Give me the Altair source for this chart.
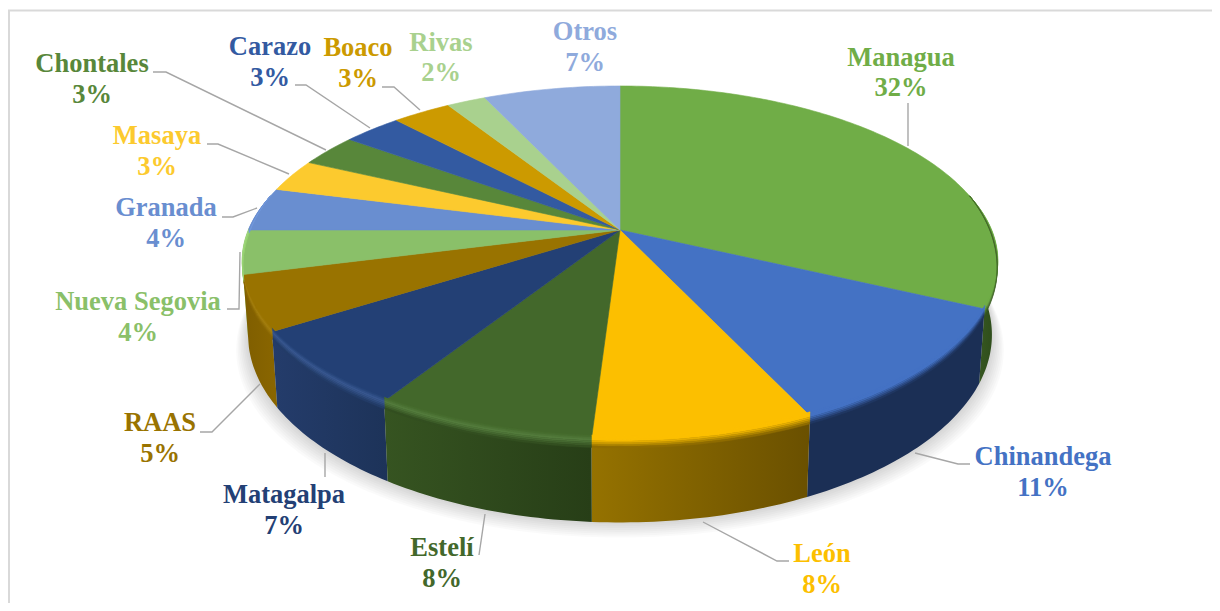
import math
import altair as alt

# ---- data ----
names = ["Managua", "Chinandega", "León", "Estelí", "Matagalpa", "RAAS", "Nueva Segovia",
         "Granada", "Masaya", "Chontales", "Carazo", "Boaco", "Rivas", "Otros"]
shares = [32, 11, 8, 8, 7, 5, 4, 4, 3, 3, 3, 3, 2, 7]

# ---- styles ----
top_colors = ["#70AD47", "#4472C4", "#FCBF00", "#43682B", "#234075", "#997300", "#8AC069",
              "#698ED0", "#FCCA2E", "#58873A", "#335AA1", "#CC9A00", "#A9D18E", "#8FAADC"]
wall_left = ["#3F6126", "#1B2F55", "#957200", "#365421", "#243C6B", "#7F5E00", "#9CDC70",
             "#7EA6EC", "#FCCA2E", "#58873A", "#335AA1", "#CC9A00", "#A9D18E", "#8FAADC"]
wall_right = ["#2C4A1A", "#1B2F55", "#6A5000", "#273E17", "#1D3359", "#8A6600", "#8AC069",
              "#698ED0", "#FCCA2E", "#58873A", "#335AA1", "#CC9A00", "#A9D18E", "#8FAADC"]
highlight = ["#70AD47", "#4472C4", "#FCBF00", "#557D3E", "#3A5A92", "#A58010", "#A4DC80",
             "#698ED0", "#FCCA2E", "#58873A", "#335AA1", "#CC9A00", "#A9D18E", "#8FAADC"]

# ---- layout of the pie (perspective view of a disc) ----
CX, HUB, R, B, K = 620.0, 230.0, 371.0, 170.8, 0.186
DROP_X, DROP_Y, STRETCH_Y = 0.985, 70.0, 1.06
WALL_FROM, WALL_TO = 78.0, 282.0
DEPTH = 80.0


def rim(theta, depth=0.0):
    """Point of the disc's rim; depth 0 is the top rim, 1 the bottom rim."""
    a = math.radians(theta)
    u, v = math.sin(a), math.cos(a)
    s = 1 / (1 + K * v)
    x0, y0 = CX + R * u * s, HUB - B * v * s
    x1 = CX + (x0 - CX) * DROP_X
    y1 = HUB + DROP_Y + (y0 - HUB) * STRETCH_Y
    return [x0 + (x1 - x0) * depth, y0 + (y1 - y0) * depth]


def arc(t0, t1, depth=0.0, fade=False):
    n = max(2, int(abs(t1 - t0)) + 1)
    out = []
    for i in range(n + 1):
        t = t0 + (t1 - t0) * i / n
        d = depth
        if fade:
            # the bevel narrows to nothing where the rim turns away
            d = depth * min(1.0, max(0.0, (0.2 - math.cos(math.radians(t))) / 0.45))
        out.append(rim(t, d))
    return out


def feature(ring, **props):
    ring = ring + [ring[0]]
    return {"type": "Feature", "properties": props,
            "geometry": {"type": "Polygon", "coordinates": [ring]}}


def mix(a, b, t):
    pa = [int(a[i:i + 2], 16) for i in (1, 3, 5)]
    pb = [int(b[i:i + 2], 16) for i in (1, 3, 5)]
    return "#" + "".join(f"{round(p + (q - p) * t):02x}" for p, q in zip(pa, pb))


angles = [0.0]
for v in shares:
    angles.append(angles[-1] + v * 3.6)

proj = dict(type="identity", scale=1, translate=[-8, -8])
geo_color = alt.Color("properties.c:N", scale=None, legend=None)
geo_stroke = alt.Stroke("properties.c:N", scale=None, legend=None)

layers = []

# soft shadow under the disc
for i in range(8, 0, -1):
    ring = [[CX + (x - CX) * (1 + 0.004 * i), y + 1.9 * i] for x, y in arc(0, 359, 1.0)]
    layers.append(alt.Chart(alt.Data(values=[feature(ring)])).mark_geoshape(
        fill="#000000", opacity=0.02, strokeWidth=0).project(**proj))

# side walls, drawn from the far sides towards the front
order = [0, 6, 7, 5, 1, 4, 2, 3]
for i in order:
    t0, t1 = max(angles[i], WALL_FROM), min(angles[i + 1], WALL_TO)
    if t1 <= t0:
        continue
    ring = arc(t0, t1, 0.0) + arc(t1, t0, 1.0)
    grad = alt.LinearGradient(
        gradient="linear", x1=0, x2=1, y1=0, y2=0,
        stops=[alt.GradientStop(color=wall_left[i], offset=0),
               alt.GradientStop(color=wall_right[i], offset=1)])
    layers.append(alt.Chart(alt.Data(values=[feature(ring)])).mark_geoshape(
        fill=grad, strokeWidth=0).project(**proj))

# top face
tops = []
for i in range(len(names)):
    tops.append(feature([[CX, HUB]] + arc(angles[i], angles[i + 1]), c=top_colors[i]))
layers.append(alt.Chart(alt.Data(values=tops)).mark_geoshape(strokeWidth=0.6).encode(
    color=geo_color, stroke=geo_stroke).project(**proj))

# bevel along the visible rim
bands = []
steps = 7
d0, d1 = -4.0, 8.0
for i in range(len(names)):
    t0, t1 = max(angles[i], WALL_FROM), min(angles[i + 1], WALL_TO)
    if t1 <= t0:
        continue
    wall = mix(wall_left[i], wall_right[i], 0.5)
    for j in range(steps):
        f = (j + 0.5) / steps
        if f < 0.4:
            col = mix(top_colors[i], highlight[i], f / 0.4)
        else:
            col = mix(highlight[i], wall, (f - 0.4) / 0.6)
        a = (d0 + (d1 - d0) * j / steps) / DEPTH
        b = (d0 + (d1 - d0) * (j + 1) / steps) / DEPTH
        bands.append(feature(arc(t0, t1, a, True) + arc(t1, t0, b, True), c=col))
layers.append(alt.Chart(alt.Data(values=bands)).mark_geoshape(strokeWidth=0.4).encode(
    color=geo_color, stroke=geo_stroke).project(**proj))

# ---- annotation placement, in picture coordinates ----
label_pos = {
    "Managua": (901, 58, 88), "Chinandega": (1043, 457, 488), "León": (822, 554, 585),
    "Estelí": (442, 548, 579), "Matagalpa": (284, 495, 526), "RAAS": (160, 423, 454),
    "Nueva Segovia": (138, 302, 333), "Granada": (166, 208, 239), "Masaya": (157, 136, 167),
    "Chontales": (92, 64, 95), "Carazo": (270, 47, 78), "Boaco": (358, 48, 79),
    "Rivas": (441, 43, 73), "Otros": (585, 32, 63),
}
leaders = {
    "Managua": [(908, 103), (908, 146)],
    "Chinandega": [(915, 453), (958, 464), (970, 464)],
    "León": [(703, 522), (777, 561), (789, 561)],
    "Estelí": [(485, 514), (479, 555)],
    "Matagalpa": [(325, 453), (325, 477)],
    "RAAS": [(260, 384), (212, 432), (200, 432)],
    "Nueva Segovia": [(240, 252), (239, 309), (227, 309)],
    "Granada": [(257, 208), (233, 217), (222, 217)],
    "Masaya": [(289, 174), (218, 144), (207, 144)],
    "Chontales": [(326, 150), (166, 72), (153, 72)],
    "Carazo": [(370, 128), (306, 85), (295, 85)],
    "Boaco": [(420, 110), (394, 87), (382, 87)],
}
frame = [(1212, 10.5), (9, 10.5), (9, 603)]

x_scale = alt.Scale(domain=[8, 1212], nice=False, zero=False)
y_scale = alt.Scale(domain=[603, 8], nice=False, zero=False)
X = alt.X("x:Q", scale=x_scale, axis=None)
Y = alt.Y("y:Q", scale=y_scale, axis=None)

leader_rows = [{"k": k, "o": j, "x": p[0], "y": p[1]}
               for k, pts in leaders.items() for j, p in enumerate(pts)]
layers.append(alt.Chart(alt.Data(values=leader_rows)).mark_line(
    color="#a6a6a6", strokeWidth=1.4).encode(x=X, y=Y, detail="k:N", order="o:Q"))

frame_rows = [{"o": j, "x": p[0], "y": p[1]} for j, p in enumerate(frame)]
layers.append(alt.Chart(alt.Data(values=frame_rows)).mark_line(
    color="#d9d9d9", strokeWidth=2).encode(x=X, y=Y, order="o:Q"))

text_rows = []
for name, share, col in zip(names, shares, top_colors):
    x, y1, y2 = label_pos[name]
    text_rows.append({"t": name, "x": x, "y": y1, "c": col})
    text_rows.append({"t": f"{share}%", "x": x, "y": y2, "c": col})
layers.append(alt.Chart(alt.Data(values=text_rows)).mark_text(
    font="Liberation Serif", fontWeight="bold", fontSize=26.5, align="center", baseline="middle"
).encode(x=X, y=Y, text="t:N", color=alt.Color("c:N", scale=None, legend=None)))

chart = alt.layer(*layers).properties(
    width=1204, height=595, padding=0,
    autosize=alt.AutoSizeParams(type="none"),
    background="#ffffff",
).configure_view(stroke=None)

chart.save("out.html", embed_options={"renderer": "svg", "actions": False})
